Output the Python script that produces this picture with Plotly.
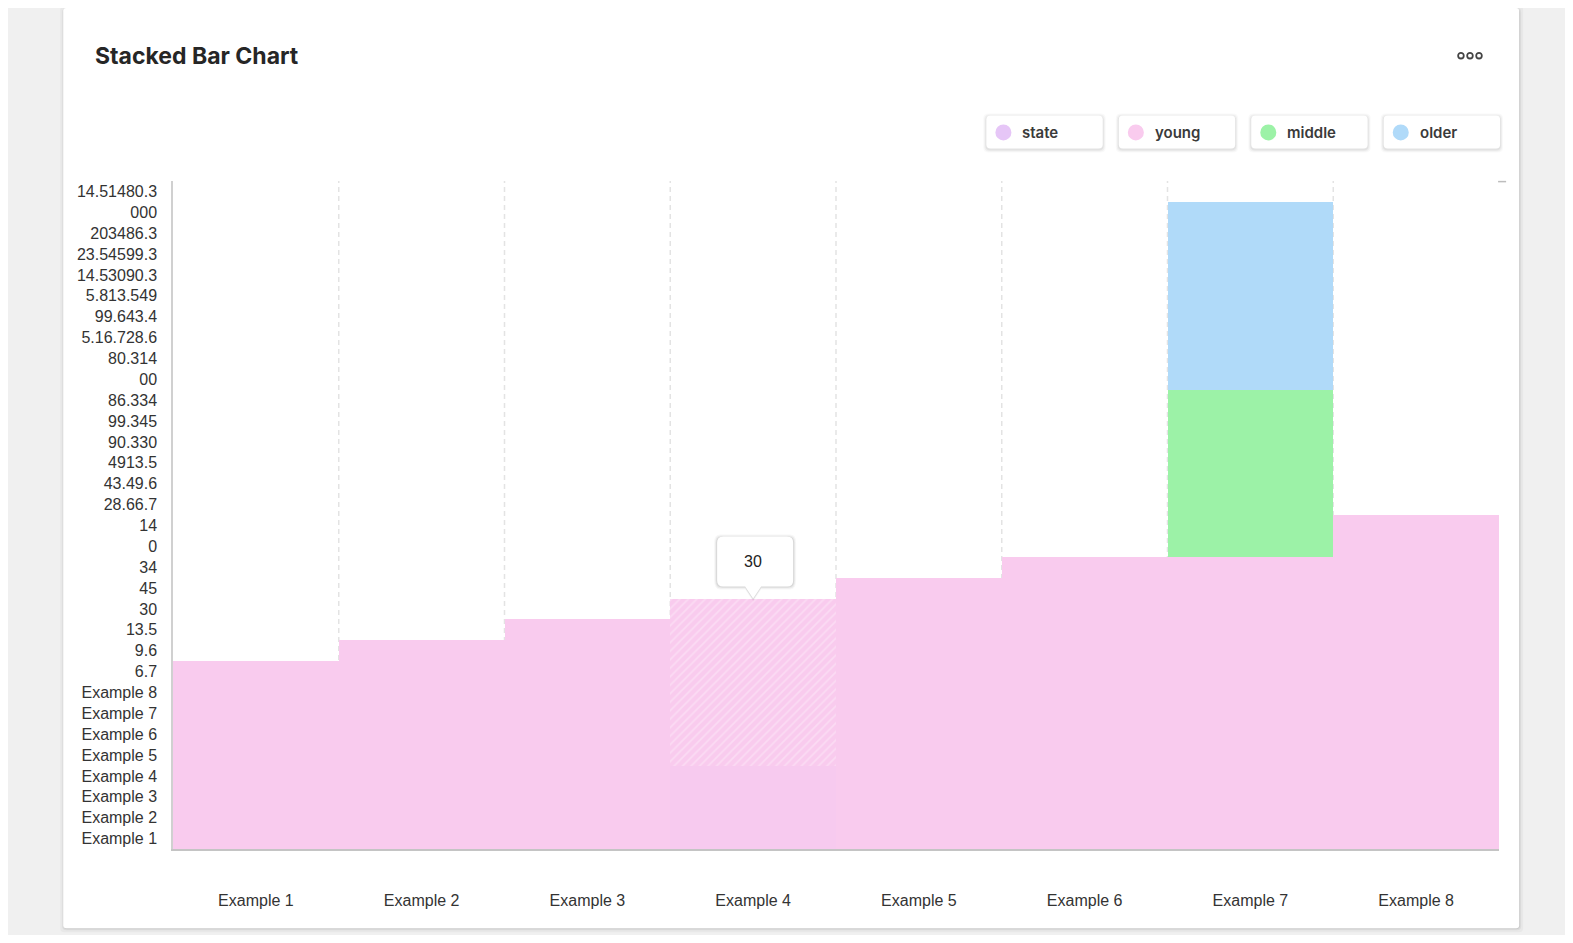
import plotly.graph_objects as go

# ---------------------------------- DATA ----------------------------------

categories = ["Example 1", "Example 2", "Example 3", "Example 4",
              "Example 5", "Example 6", "Example 7", "Example 8"]

# stack heights, in steps of the (odd) y tick ladder
state = [0, 0, 0, 4, 0, 0, 0, 0]
young = [9, 10, 11, 8, 13, 14, 14, 16]
middle = [0, 0, 0, 0, 0, 0, 8, 0]
older = [0, 0, 0, 0, 0, 0, 9, 0]

y_tick_labels = ["Example 1", "Example 2", "Example 3", "Example 4",
                 "Example 5", "Example 6", "Example 7", "Example 8",
                 "6.7", "9.6", "13.5", "30", "45", "34", "0", "14",
                 "28.66.7", "43.49.6", "4913.5", "90.330", "99.345", "86.334",
                 "00", "80.314", "5.16.728.6", "99.643.4", "5.813.549",
                 "14.53090.3", "23.54599.3", "203486.3", "000", "14.51480.3"]

legend_names = ["state", "young", "middle", "older"]
legend_colors = ["#e6c6f7", "#f9cbee", "#9cf2a7", "#b0daf9"]

hover_category = "Example 4"
hover_text = "30"

# ---------------------------------- LAYOUT HELPERS ----------------------------------

S = 1.0034
OFF = 8                     # body margin of the page
W, H = 1557, 927
ML = round(172 * S) - OFF
MR = W - (round(1494 * S) - OFF)
MT = round(180 * S) - OFF
MB = H - (round(846 * S) - OFF)
PW, PH = W - ML - MR, H - MT - MB


def fx(X):
    # screen px -> paper x
    return (X * S - OFF - ML) / PW


def fy(Y):
    # screen px -> paper y
    return (H - MB + OFF - Y * S) / PH


def rrect(x0, y0, x1, y1, r):
    pts = [("M", x0 + r, y0), ("L", x1 - r, y0), ("Q", x1, y0, x1, y0 + r),
           ("L", x1, y1 - r), ("Q", x1, y1, x1 - r, y1), ("L", x0 + r, y1),
           ("Q", x0, y1, x0, y1 - r), ("L", x0, y0 + r), ("Q", x0, y0, x0 + r, y0)]
    out = ""
    for p in pts:
        cmd, vals = p[0], p[1:]
        coords = []
        for i in range(0, len(vals), 2):
            coords.append("%.5f,%.5f" % (fx(vals[i]), fy(vals[i + 1])))
        out += cmd + " ".join(coords) + " "
    return out + "Z"


shapes = []
annotations = []

# card and its shadow
for grow, alpha in [(4, 0.03), (2, 0.05), (1, 0.07)]:
    shapes.append(dict(type="path", xref="paper", yref="paper", layer="below",
                       path=rrect(63 - grow + 1, 8 - grow + 2, 1514 + grow, 925 + grow, 4),
                       fillcolor="rgba(0,0,0,%s)" % alpha, line_width=0))
shapes.append(dict(type="path", xref="paper", yref="paper", layer="below",
                   path=rrect(63, 8, 1514, 925, 3), fillcolor="white", line_width=0))

# title and menu dots
annotations.append(dict(xref="paper", yref="paper", x=fx(93), y=fy(56),
                        xanchor="left", yanchor="middle", showarrow=False,
                        text="Stacked Bar Chart",
                        font=dict(family="Inter", size=23, weight=700, color="#262626")))
for cx in [1456, 1465, 1474]:
    shapes.append(dict(type="circle", xref="paper", yref="paper",
                       x0=fx(cx - 2.8), x1=fx(cx + 2.8), y0=fy(55.5 - 2.8), y1=fy(55.5 + 2.8),
                       line=dict(color="#444444", width=1.8)))

# legend chips
chip_left = [983, 1115, 1247, 1379]
chip_w = 116
for left, name, col in zip(chip_left, legend_names, legend_colors):
    for grow, alpha in [(3, 0.025), (2, 0.04), (1, 0.05)]:
        shapes.append(dict(type="path", xref="paper", yref="paper",
                           path=rrect(left - grow, 115 - grow + 1, left + chip_w + grow, 148 + grow + 1, 5),
                           fillcolor="rgba(0,0,0,%s)" % alpha, line_width=0))
    shapes.append(dict(type="path", xref="paper", yref="paper",
                       path=rrect(left, 115, left + chip_w, 148, 4),
                       fillcolor="white", line_width=0))
    shapes.append(dict(type="circle", xref="paper", yref="paper",
                       x0=fx(left + 9), x1=fx(left + 25), y0=fy(140), y1=fy(124),
                       fillcolor=col, line_width=0))
    annotations.append(dict(xref="paper", yref="paper", x=fx(left + 34), y=fy(132),
                            xanchor="left", yanchor="middle", showarrow=False,
                            text=name,
                            font=dict(family="Inter", size=15, weight=600, color="#3a3a3a")))

# dashed separators between categories
for i in range(len(categories) - 1):
    shapes.append(dict(type="line", xref="x", yref="paper", layer="below",
                       x0=i + 0.5, x1=i + 0.5, y0=0, y1=1,
                       line=dict(color="#e3e3e3", width=1.5, dash="5px,4px")))

# small tick at the top right
shapes.append(dict(type="line", xref="paper", yref="paper",
                   x0=fx(1493), x1=fx(1501), y0=fy(181), y1=fy(181),
                   line=dict(color="#bdbdbd", width=1.5)))

# tooltip over the hovered bar
hi = categories.index(hover_category)
tip_top = state[hi] + young[hi] + middle[hi] + older[hi]
tip_path = ("M-30,12 L-8,12 L0,0 L8,12 L34,12 Q40,12 40,18 L40,56 Q40,62 34,62 "
            "L-30,62 Q-36,62 -36,56 L-36,18 Q-36,12 -30,12 Z")
for grow, alpha in [(3, 0.03), (2, 0.05), (1, 0.08)]:
    g = grow
    shadow = ("M%d,%d L-8,%d L0,%d L8,%d L%d,%d Q%d,%d %d,18 L%d,56 Q%d,%d %d,%d "
              "L%d,%d Q%d,%d %d,56 L%d,18 Q%d,%d %d,%d Z") % (
        -30 - g, 12 - g, 12 - g, -g, 12 - g, 34 + g, 12 - g, 40 + g, 12 - g, 40 + g,
        40 + g, 40 + g, 62 + g - 1, 34 + g, 62 + g - 1,
        -30 - g, 62 + g - 1, -36 - g, 62 + g - 1, -36 - g, -36 - g, -36 - g, 12 - g, -30 - g, 12 - g)
    shapes.append(dict(type="path", xref="x", yref="y", xsizemode="pixel", ysizemode="pixel",
                       xanchor=hover_category, yanchor=tip_top, path=shadow,
                       fillcolor="rgba(0,0,0,%s)" % alpha, line_width=0))
shapes.append(dict(type="path", xref="x", yref="y", xsizemode="pixel", ysizemode="pixel",
                   xanchor=hover_category, yanchor=tip_top, path=tip_path,
                   fillcolor="white", line_width=0))
annotations.append(dict(xref="x", yref="y", x=hover_category, y=tip_top, yshift=37,
                        showarrow=False, text=hover_text,
                        font=dict(family="Liberation Sans", size=16, color="#222222")))

# ---------------------------------- FIGURE ----------------------------------

patterns = ["/" if c == hover_category else "" for c in categories]

fig = go.Figure()
fig.add_trace(go.Bar(name="state", x=categories, y=state,
                     marker=dict(color="#f7caef", line_width=0)))
fig.add_trace(go.Bar(name="young", x=categories, y=young,
                     marker=dict(color="#f9cbee", line_width=0,
                                 pattern=dict(shape=patterns, fgcolor="white",
                                              fgopacity=0.3, size=6, solidity=0.3))))
fig.add_trace(go.Bar(name="middle", x=categories, y=middle,
                     marker=dict(color="#9cf2a7", line_width=0)))
fig.add_trace(go.Bar(name="older", x=categories, y=older,
                     marker=dict(color="#b0daf9", line_width=0)))

fig.update_layout(
    width=W, height=H,
    margin=dict(l=ML, r=MR, t=MT, b=MB),
    paper_bgcolor="#f0f0f0", plot_bgcolor="white",
    barmode="stack", bargap=0, showlegend=False, hovermode=False,
    font=dict(family="Liberation Sans", size=16, color="#333333"),
    shapes=shapes, annotations=annotations,
)
fig.update_xaxes(type="category", range=[-0.5, len(categories) - 0.5],
                 showgrid=False, showline=True, linecolor="#c4c4c4", linewidth=1.5,
                 ticks="", ticklabelstandoff=36, zeroline=False, fixedrange=True)
fig.update_yaxes(range=[0, len(y_tick_labels)],
                 tickvals=[i + 0.5 for i in range(len(y_tick_labels))],
                 ticktext=y_tick_labels, showgrid=False, zeroline=False,
                 showline=True, linecolor="#d0d0d0", linewidth=1.5,
                 ticks="", ticklabelstandoff=11, fixedrange=True)

fig.write_html("out.html")
